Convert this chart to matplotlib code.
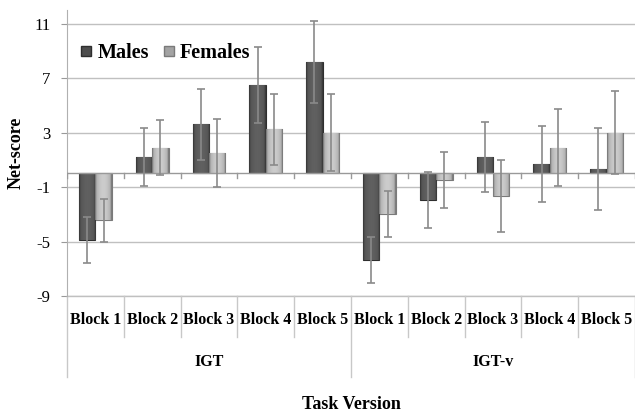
import numpy as np
import matplotlib
matplotlib.use("Agg")
import matplotlib.pyplot as plt
from matplotlib.lines import Line2D

plt.rcParams["font.family"] = ["Liberation Serif", "DejaVu Serif"]

# data
blocks = ["Block 1", "Block 2", "Block 3", "Block 4", "Block 5"]
versions = ["IGT", "IGT-v"]
males = [-4.9, 1.2, 3.6, 6.5, 8.2, -6.35, -1.95, 1.2, 0.7, 0.3]
females = [-3.45, 1.9, 1.5, 3.25, 3.0, -3.0, -0.5, -1.65, 1.9, 3.0]
males_err = [1.7, 2.1, 2.6, 2.8, 3.0, 1.7, 2.05, 2.6, 2.8, 3.0]
females_err = [1.6, 2.0, 2.5, 2.6, 2.8, 1.7, 2.05, 2.65, 2.8, 3.05]
yticks = [-9, -5, -1, 3, 7, 11]

male_col = "#4d4d4d"
female_col = "#a3a3a3"


def shade(ax, bars, base):
    # horizontal gradient inside each bar, darker at the sides
    c = np.array(matplotlib.colors.to_rgb(base))
    t = np.linspace(-1, 1, 40)
    k = 1.0 + 0.25 * (1 - t ** 2) - 0.25 * (np.abs(t) > 0.85)
    img = np.clip(c[None, None, :] * k[None, :, None], 0, 1)
    for b in bars:
        x0, y0 = b.get_x(), b.get_y()
        w, h = b.get_width(), b.get_height()
        im = ax.imshow(img, extent=(x0, x0 + w, y0, y0 + h), aspect="auto",
                       zorder=b.get_zorder(), interpolation="bilinear")
        im.set_clip_path(b)


fig = plt.figure(figsize=(6.35, 4.13), dpi=100)
ax = fig.add_axes([0.1055, 0.2833, 0.8945, 0.6925])

n = len(males)
x = np.arange(n)
w = 0.29
ax.set_xlim(-0.5, n - 0.5)
ax.set_ylim(-9, 12)

for yv in yticks:
    ax.axhline(yv, color="#c0c0c0", lw=1.0, zorder=0)

bm = ax.bar(x - w / 2, males, w, color=male_col, edgecolor="#2e2e2e", lw=0.8, zorder=2)
bf = ax.bar(x + w / 2, females, w, color=female_col, edgecolor="#7a7a7a", lw=0.8, zorder=2)
shade(ax, bm, male_col)
shade(ax, bf, female_col)

ekw = dict(fmt="none", ecolor="#8a8a8a", elinewidth=1.2, capsize=3, capthick=1.2, zorder=4)
ax.errorbar(x - w / 2, males, yerr=males_err, **ekw)
ax.errorbar(x + w / 2, females, yerr=females_err, **ekw)

# zero line with category ticks
ax.axhline(0, color="#999999", lw=1.0, zorder=3)
for xb in np.arange(n + 1) - 0.5:
    ax.plot([xb, xb], [0, -0.35], color="#999999", lw=1.0, zorder=3)

ax.set_yticks(yticks)
ax.set_yticklabels([str(v) for v in yticks], fontsize=12)
ax.tick_params(axis="y", length=4, color="#999999", pad=8)
ax.set_xticks([])
for s in ["top", "right", "bottom"]:
    ax.spines[s].set_visible(False)
ax.spines["left"].set_color("#b0b0b0")
ax.set_ylabel("Net-score", fontsize=13, fontweight="bold", labelpad=7)

# category table under the plot
tr = ax.get_xaxis_transform()
ax.plot([-0.5, n - 0.5], [0, 0], transform=tr, color="#c0c0c0", lw=1.0, clip_on=False)
for i in range(n + 1):
    xb = i - 0.5
    depth = -0.283 if i % 5 == 0 else -0.143
    ax.plot([xb, xb], [0, depth], transform=tr, color="#c8c8c8", lw=1.0, clip_on=False)
for i in range(n):
    ax.text(i, -0.084, blocks[i % 5], transform=tr, ha="center", va="center",
            fontsize=11.5, fontweight="bold")
for j, v in enumerate(versions):
    ax.text(j * 5 + 2, -0.231, v, transform=tr, ha="center", va="center",
            fontsize=11.5, fontweight="bold")
ax.text(4.5, -0.381, "Task Version", transform=tr, ha="center", va="center",
        fontsize=13, fontweight="bold")

handles = [Line2D([], [], marker="s", ls="none", markersize=7, markerfacecolor=male_col,
                  markeredgecolor="#2e2e2e"),
           Line2D([], [], marker="s", ls="none", markersize=7, markerfacecolor=female_col,
                  markeredgecolor="#7a7a7a")]
ax.legend(handles, ["Males", "Females"], loc="upper left", bbox_to_anchor=(-0.005, 0.935),
          ncol=2, frameon=False, prop={"size": 14.5, "weight": "bold"},
          handlelength=0.8, handletextpad=0.15, columnspacing=0.6, borderaxespad=0.3)

fig.savefig("out.png", dpi=100)
